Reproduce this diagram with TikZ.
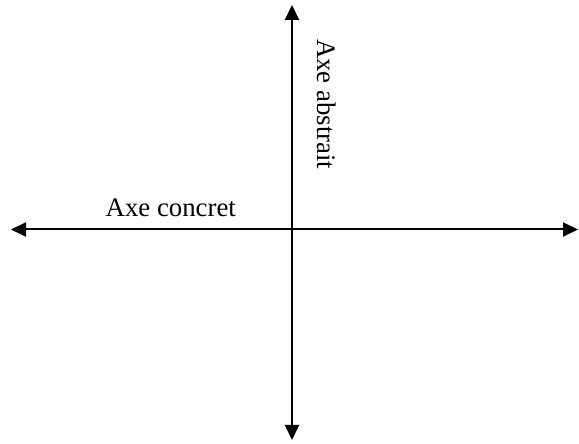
\documentclass[tikz,border=0pt]{standalone}
\usepackage{fontspec}
\setmainfont{Liberation Serif}
\usetikzlibrary{arrows.meta}
\tikzstyle{none}=[inner sep=0pt]
\tikzstyle{axe}=[draw=black, line width=2pt, {Triangle[length=15pt,width=14pt]}-{Triangle[length=15pt,width=14pt]}]
\tikzstyle{legende}=[inner sep=0pt, font=\fontsize{26.8}{32}\selectfont]

\begin{document}
\begin{tikzpicture}[x=1pt, y=1pt]
			\useasboundingbox (0, 0) rectangle (579, 444);
			\coordinate (gauche) at (11, 214.5);
			\coordinate (droite) at (578, 214.5);
			\coordinate (haut) at (292, 439);
			\coordinate (bas) at (292, 4);
			\node [style=legende, anchor=base west] (concret) at (105.5, 227) {Axe concret};
			\node [style=legende, rotate=-90, anchor=base west] (abstrait) at (317.5, 405) {Axe abstrait};
			\draw [style=axe] (gauche) to (droite);
			\draw [style=axe] (bas) to (haut);
\end{tikzpicture}
\end{document}
